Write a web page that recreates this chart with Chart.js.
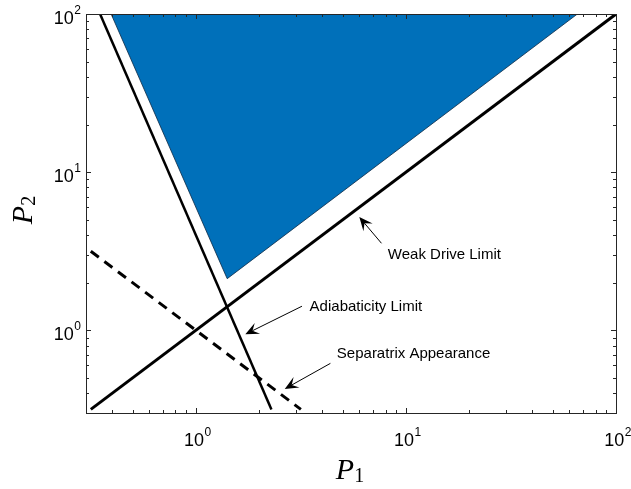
<!DOCTYPE html>
<html><head><meta charset="utf-8">
<script src="https://cdn.jsdelivr.net/npm/chart.js@4/dist/chart.umd.min.js"></script>
<style>html,body{margin:0;padding:0;background:#fff;} #wrap{width:631px;height:489px;position:relative;}</style>
</head><body><div id="wrap"><canvas id="c" width="631" height="489"></canvas></div>
<script>
// ---- axis / tick data ----
const axisMin = 0.3162;
const axisMax = 100;
const xMajorTicks = [1, 10, 100];
const xMajorExps = ['0', '1', '2'];
const yMajorTicks = [1, 10, 100];
const yMajorExps = ['0', '1', '2'];
const xTitleBase = 'P', xTitleSub = '1';
const yTitleBase = 'P', yTitleSub = '2';

// ---- series ----
const regionX = [0.395, 1.41, 65.5];
const regionY = [100, 2.12, 100];
const weakX = [0.3162, 100];
const weakY = [0.3162, 100];
const adiaX = [0.35, 2.29];
const adiaY = [100, 0.3162];
const sepX = [0.3162, 3.162];
const sepY = [3.162, 0.3162];

// ---- annotations (data coordinates) ----
const annoLabels = ['Weak Drive Limit', 'Adiabaticity Limit', 'Separatrix Appearance'];
const annoTip  = [[6.0, 5.2], [1.72, 0.944], [2.65, 0.426]];
const annoTail = [[7.65, 3.55], [3.2, 1.42], [4.37, 0.618]];
const annoText = [[8.2, 3.0], [3.48, 1.40], [4.69, 0.707]];

const pts = (xs, ys) => xs.map((x, i) => ({x: x, y: ys[i]}));
const AX = '#262626';

function drawArrow(ctx, x0, y0, x1, y1) {
  const dx = x1 - x0, dy = y1 - y0, len = Math.hypot(dx, dy);
  const ux = dx / len, uy = dy / len, nx = -uy, ny = ux;
  const L = 13.5, W = 6, notch = 8;
  ctx.strokeStyle = '#000'; ctx.fillStyle = '#000'; ctx.lineWidth = 1;
  ctx.beginPath(); ctx.moveTo(x0, y0); ctx.lineTo(x1 - ux * notch, y1 - uy * notch); ctx.stroke();
  ctx.beginPath();
  ctx.moveTo(x1, y1);
  ctx.lineTo(x1 - ux * L + nx * W, y1 - uy * L + ny * W);
  ctx.lineTo(x1 - ux * notch, y1 - uy * notch);
  ctx.lineTo(x1 - ux * L - nx * W, y1 - uy * L - ny * W);
  ctx.closePath(); ctx.fill();
}

function minorValues() {
  const v = [];
  [0.1, 1, 10].forEach(d => { for (let m = 1; m <= 9; m++) { const t = m * d; if (t >= axisMin - 1e-9 && t <= axisMax + 1e-9) v.push(t); } });
  return v;
}

const decor = {
  id: 'decor',
  afterDraw(chart) {
    const ctx = chart.ctx, a = chart.chartArea, xs = chart.scales.x, ys = chart.scales.y;
    ctx.save();
    // box
    ctx.strokeStyle = AX; ctx.lineWidth = 1;
    ctx.strokeRect(Math.round(a.left) + 0.5, Math.round(a.top) + 0.5, Math.round(a.right - a.left), Math.round(a.bottom - a.top));
    // ticks
    const vals = minorValues();
    ctx.beginPath();
    vals.forEach(v => {
      const major = Math.abs(Math.log10(v) - Math.round(Math.log10(v))) < 1e-6;
      const tl = major ? 5 : 3;
      const px = Math.round(xs.getPixelForValue(v)) + 0.5;
      ctx.moveTo(px, a.bottom); ctx.lineTo(px, a.bottom - tl);
      ctx.moveTo(px, a.top); ctx.lineTo(px, a.top + tl);
      const py = Math.round(ys.getPixelForValue(v)) + 0.5;
      ctx.moveTo(a.left, py); ctx.lineTo(a.left + tl, py);
      ctx.moveTo(a.right, py); ctx.lineTo(a.right - tl, py);
    });
    ctx.stroke();
    // tick labels
    ctx.fillStyle = '#000'; ctx.textBaseline = 'alphabetic';
    const bigF = '18px "Liberation Sans", Arial, sans-serif';
    const supF = '12px "Liberation Sans", Arial, sans-serif';
    xMajorTicks.forEach((v, i) => {
      const px = xs.getPixelForValue(v);
      ctx.font = bigF; const w1 = ctx.measureText('10').width;
      ctx.font = supF; const w2 = ctx.measureText(xMajorExps[i]).width;
      const x0 = px - (w1 + w2) / 2 + 1.5;
      ctx.font = bigF; ctx.textAlign = 'left'; ctx.fillText('10', x0, a.bottom + 32.5);
      ctx.font = supF; ctx.fillText(xMajorExps[i], x0 + w1 + 0.5, a.bottom + 22.5);
    });
    yMajorTicks.forEach((v, i) => {
      const py = ys.getPixelForValue(v);
      ctx.font = supF; const w2 = ctx.measureText(yMajorExps[i]).width;
      ctx.font = bigF; const w1 = ctx.measureText('10').width;
      const xr = a.left - 5;
      ctx.textAlign = 'left';
      ctx.font = bigF; ctx.fillText('10', xr - w2 - 0.5 - w1, py + 10);
      ctx.font = supF; ctx.fillText(yMajorExps[i], xr - w2, py);
    });
    // axis titles
    const tF = 'italic 30px "Liberation Serif", "Times New Roman", serif';
    const sF = '20px "Liberation Serif", "Times New Roman", serif';
    ctx.font = tF; const pw = ctx.measureText(xTitleBase).width;
    ctx.font = sF; const sw = ctx.measureText(xTitleSub).width;
    const cx = (a.left + a.right) / 2 - 1;
    ctx.textAlign = 'left';
    ctx.font = tF; ctx.fillText(xTitleBase, cx - (pw + sw) / 2, 479);
    ctx.font = sF; ctx.fillText(xTitleSub, cx - (pw + sw) / 2 + pw, 482);
    ctx.save();
    ctx.translate(32, 210); ctx.rotate(-Math.PI / 2);
    ctx.font = tF; const pw2 = ctx.measureText(yTitleBase).width;
    ctx.font = sF; const sw2 = ctx.measureText(yTitleSub).width;
    ctx.font = tF; ctx.fillText(yTitleBase, -(pw2 + sw2) / 2, 0);
    ctx.font = sF; ctx.fillText(yTitleSub, -(pw2 + sw2) / 2 + pw2, 3);
    ctx.restore();
    // annotations
    ctx.font = '15px "Liberation Sans", Arial, sans-serif';
    ctx.textBaseline = 'middle'; ctx.textAlign = 'left'; ctx.fillStyle = '#000';
    annoLabels.forEach((lab, i) => {
      const tx = xs.getPixelForValue(annoText[i][0]), ty = ys.getPixelForValue(annoText[i][1]);
      ctx.fillText(lab, tx, ty);
      drawArrow(ctx, xs.getPixelForValue(annoTail[i][0]), ys.getPixelForValue(annoTail[i][1]),
                     xs.getPixelForValue(annoTip[i][0]), ys.getPixelForValue(annoTip[i][1]));
    });
    ctx.restore();
  }
};

new Chart(document.getElementById('c'), {
  type: 'line',
  data: {
    datasets: [
      {label: 'Weak Drive Limit', data: pts(weakX, weakY), borderColor: '#000', borderWidth: 3, pointRadius: 0, fill: false, clip: 0},
      {label: 'Adiabaticity Limit', data: pts(adiaX, adiaY), borderColor: '#000', borderWidth: 2.5, pointRadius: 0, fill: false, clip: 0},
      {label: 'Separatrix Appearance', data: pts(sepX, sepY), borderColor: '#000', borderWidth: 3, borderDash: [10, 7], pointRadius: 0, fill: false, clip: 0},
      {label: 'Region', data: pts(regionX, regionY), borderColor: '#0d2a45', borderWidth: 0.8, backgroundColor: '#0070BA', pointRadius: 0, fill: 'end', clip: 0}
    ]
  },
  options: {
    responsive: false,
    animation: false,
    devicePixelRatio: 1,
    layout: {padding: {left: 86, right: 15, top: 14, bottom: 76}},
    scales: {
      x: {type: 'logarithmic', min: axisMin, max: axisMax, display: false},
      y: {type: 'logarithmic', min: axisMin, max: axisMax, display: false}
    },
    plugins: {legend: {display: false}, tooltip: {enabled: false}}
  },
  plugins: [decor]
});
</script>
</body></html>
